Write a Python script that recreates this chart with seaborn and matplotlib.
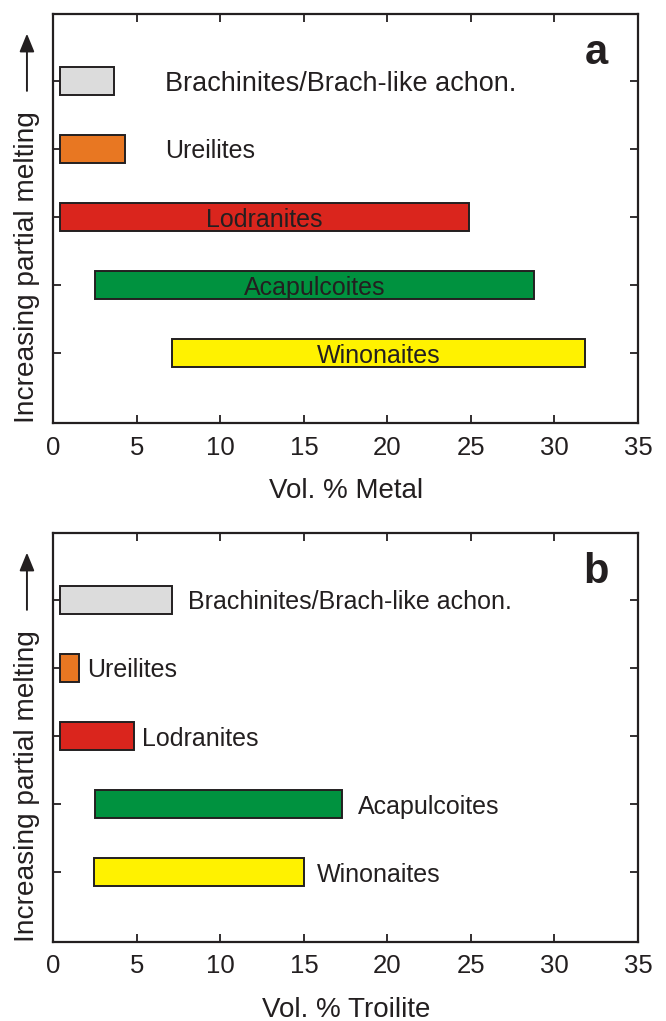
import matplotlib
matplotlib.use("Agg")
import matplotlib.pyplot as plt
import pandas as pd
import seaborn as sns

# Achondrite groups, ordered from highest to lowest degree of partial melting
groups = ["Brachinites/Brach-like achon.", "Ureilites", "Lodranites",
          "Acapulcoites", "Winonaites"]
short_names = ["Brachinites", "Ureilites", "Lodranites", "Acapulcoites", "Winonaites"]

# Range of modal metal content (vol. %)
metal_min = [0.4, 0.4, 0.4, 2.5, 7.1]
metal_max = [3.6, 4.3, 24.9, 28.8, 31.8]

# Range of modal troilite content (vol. %)
troilite_min = [0.4, 0.4, 0.4, 2.5, 2.4]
troilite_max = [7.1, 1.5, 4.8, 17.3, 15.0]

bar_colors = ["#dcdcdc", "#e87722", "#da251d", "#00923f", "#fff200"]
ink = "#231f20"

sns.set_style("white")
plt.rcParams["font.family"] = ["Liberation Sans", "DejaVu Sans"]
plt.rcParams["text.color"] = ink

fig = plt.figure(figsize=(6.66, 10.21), dpi=100)
ax_a = fig.add_axes([0.0803, 0.5857, 0.8776, 0.4006])
ax_b = fig.add_axes([0.0803, 0.0774, 0.8776, 0.4006])


def range_bars(ax, lo, hi, xlabel, letter):
    df = pd.DataFrame({"group": short_names, "lo": lo, "hi": hi})
    df["span"] = df["hi"] - df["lo"]
    sns.barplot(data=df, x="span", y="group", hue="group", palette=bar_colors,
                orient="h", width=0.41, edgecolor=ink, linewidth=1.4,
                saturation=1, legend=False, ax=ax)
    # shift each bar so that it starts at the lower bound of its range
    for patch, start in zip(ax.patches, df["lo"]):
        patch.set_x(start)

    ax.set_xlim(0, 35)
    ax.set_ylim(5.02, -0.98)
    ax.set_xticks(range(0, 36, 5))
    ax.set_xlabel(xlabel, fontsize=20, color=ink, labelpad=13)
    ax.set_ylabel("")
    ax.tick_params(axis="both", which="both", direction="in", length=5.5,
                   width=1.3, color=ink, top=True, right=True, left=True,
                   bottom=True, labelleft=False, labelsize=18.5, labelcolor=ink,
                   pad=9)
    for sp in ax.spines.values():
        sp.set_visible(True)
        sp.set_linewidth(1.6)
        sp.set_color(ink)

    ax.text(32.5, -0.24, letter, fontsize=30, fontweight="bold",
            ha="center", va="baseline", color=ink)

    # vertical axis caption with upward arrow
    ax.text(-0.034, 0.381, "Increasing partial melting", transform=ax.transAxes,
            rotation=90, rotation_mode="anchor", ha="center", va="baseline",
            fontsize=20.2, color=ink)
    ax.annotate("", xy=(-0.0454, 0.952), xytext=(-0.0454, 0.812),
                xycoords="axes fraction", textcoords="axes fraction",
                arrowprops=dict(arrowstyle="-|>,head_length=1.1,head_width=0.45",
                                mutation_scale=10, lw=1.4, color=ink,
                                shrinkA=0, shrinkB=0),
                annotation_clip=False)
    return df


df_a = range_bars(ax_a, metal_min, metal_max, "Vol. % Metal", "a")
for i, (name, lo, hi) in enumerate(zip(groups, metal_min, metal_max)):
    if hi - lo > 15:
        ax_a.text((lo + hi) / 2, i, name, ha="center", va="center_baseline",
                  fontsize=18, color=ink)
    else:
        size = 19.5 if len(name) > 20 else 18
        ax_a.text(6.7, i, name, ha="left", va="center_baseline",
                  fontsize=size, color=ink)

df_b = range_bars(ax_b, troilite_min, troilite_max, "Vol. % Troilite", "b")
label_gap_pt = [11.5, 6.0, 6.0, 11.5, 9.0]
for i, (name, hi) in enumerate(zip(groups, troilite_max)):
    ax_b.annotate(name, xy=(hi, i), xytext=(label_gap_pt[i], 0),
                  textcoords="offset points", ha="left", va="center_baseline",
                  fontsize=18, color=ink)

fig.savefig("out.png", dpi=100)
